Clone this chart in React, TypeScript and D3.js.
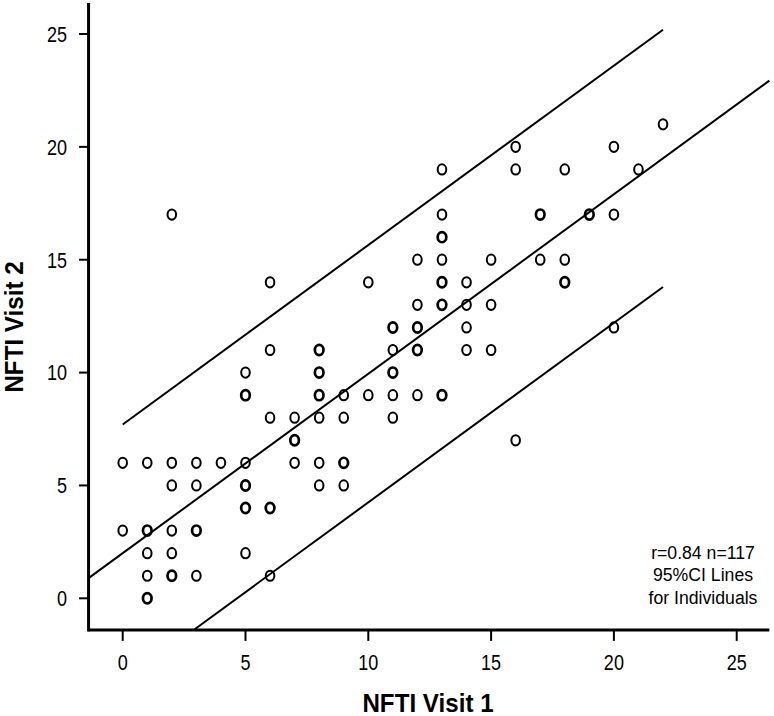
import React from "react";
import * as d3 from "d3";

// Unique (Visit 1, Visit 2) score pairs and how many subjects share each pair
const visit1 = [
  0, 0,
  1, 1, 1, 1, 1,
  2, 2, 2, 2, 2, 2,
  3, 3, 3, 3,
  4,
  5, 5, 5, 5, 5, 5,
  6, 6, 6, 6, 6,
  7, 7, 7,
  8, 8, 8, 8, 8, 8,
  9, 9, 9, 9,
  10, 10,
  11, 11, 11, 11, 11,
  12, 12, 12, 12, 12,
  13, 13, 13, 13, 13, 13, 13,
  14, 14, 14, 14,
  15, 15, 15,
  16, 16, 16,
  17, 17,
  18, 18, 18,
  19,
  20, 20, 20,
  21,
  22,
];
const visit2 = [
  6, 3,
  6, 3, 2, 1, 0,
  17, 6, 5, 3, 2, 1,
  6, 5, 3, 1,
  6,
  10, 9, 6, 5, 4, 2,
  14, 11, 8, 4, 1,
  8, 7, 6,
  11, 10, 9, 8, 6, 5,
  9, 8, 6, 5,
  14, 9,
  12, 11, 10, 9, 8,
  15, 13, 12, 11, 9,
  19, 17, 16, 15, 14, 13, 9,
  14, 13, 12, 11,
  15, 13, 11,
  20, 19, 7,
  17, 15,
  19, 15, 14,
  17,
  20, 17, 12,
  19,
  21,
];
const counts = [
  1, 1,
  1, 3, 1, 1, 2,
  1, 1, 1, 1, 1, 2,
  1, 1, 3, 1,
  1,
  1, 2, 1, 3, 3, 1,
  1, 1, 1, 2, 1,
  1, 2, 1,
  3, 2, 2, 1, 1, 1,
  1, 1, 2, 1,
  1, 1,
  3, 1, 2, 1, 1,
  1, 1, 3, 3, 1,
  1, 1, 2, 1, 3, 3, 2,
  1, 1, 1, 1,
  1, 1, 1,
  1, 1, 1,
  2, 1,
  1, 1, 2,
  2,
  1, 1, 1,
  1,
  1,
];

const xTicks = [0, 5, 10, 15, 20, 25];
const yTicks = [0, 5, 10, 15, 20, 25];
const xDomain = [-1.39, 26.33];
const yDomain = [-1.4, 26.37];

// Regression fit and half-width of the 95% individual prediction band
const intercept = 2.0;
const slope = 0.795;
const ciHalfWidth = 5.7;
const upperRange = [0, 22];
const lowerRange = [2.89, 22];

const annotation = ["r=0.84 n=117", "95%CI Lines", "for Individuals"];
const xTitle = "NFTI Visit 1";
const yTitle = "NFTI Visit 2";

const FONT = "'Liberation Sans', Arial, Helvetica, sans-serif";

export default function App() {
  const x = d3.scaleLinear().domain([0, 25]).range([122.7, 736.7]);
  const y = d3.scaleLinear().domain([0, 25]).range([598.3, 34]);

  const x0 = x(xDomain[0]);
  const x1 = x(xDomain[1]);
  const yb = y(yDomain[0]);
  const yt = y(yDomain[1]);

  const line = d3
    .line<number[]>()
    .x((d) => x(d[0]))
    .y((d) => y(d[1]));

  const fit = (v: number, off: number) => intercept + slope * v + off;
  const regPath = line([
    [xDomain[0], fit(xDomain[0], 0)],
    [xDomain[1], fit(xDomain[1], 0)],
  ]);
  const upPath = line([
    [upperRange[0], fit(upperRange[0], ciHalfWidth)],
    [upperRange[1], fit(upperRange[1], ciHalfWidth)],
  ]);
  const loPath = line([
    [lowerRange[0], fit(lowerRange[0], -ciHalfWidth)],
    [lowerRange[1], fit(lowerRange[1], -ciHalfWidth)],
  ]);

  return (
    <svg
      width={774}
      height={716}
      style={{ position: "absolute", left: 0, top: 0, background: "#fff" }}
    >
      <rect x={0} y={0} width={774} height={716} fill="#fff" />
      {/* fit lines */}
      <g fill="none" stroke="#000" strokeWidth={2}>
        <path d={regPath || ""} />
        <path d={upPath || ""} />
        <path d={loPath || ""} />
      </g>
      {/* points */}
      <g fill="none" stroke="#000">
        {visit1.map((v, i) => (
          <ellipse
            key={i}
            cx={x(v)}
            cy={y(visit2[i])}
            rx={4.3}
            ry={5.1}
            strokeWidth={counts[i] > 1 ? 2.7 : 2.0}
          />
        ))}
      </g>
      {/* axes */}
      <line x1={x0} x2={x1} y1={yb} y2={yb} stroke="#000" strokeWidth={3} />
      <line x1={x0} x2={x0} y1={yt} y2={yb + 1.5} stroke="#000" strokeWidth={3} />
      {xTicks.map((t) => (
        <g key={"x" + t}>
          <line x1={x(t)} x2={x(t)} y1={yb} y2={yb + 11} stroke="#000" strokeWidth={2} />
          <text
            transform={`translate(${x(t)},670) scale(0.82,1)`}
            textAnchor="middle"
            fontFamily={FONT}
            fontSize={22}
          >
            {t}
          </text>
        </g>
      ))}
      {yTicks.map((t) => (
        <g key={"y" + t}>
          <line x1={x0 - 9.5} x2={x0} y1={y(t)} y2={y(t)} stroke="#000" strokeWidth={2} />
          <text
            transform={`translate(67,${y(t) + 7.9}) scale(0.82,1)`}
            textAnchor="end"
            fontFamily={FONT}
            fontSize={22}
          >
            {t}
          </text>
        </g>
      ))}
      {/* titles */}
      <text
        transform={`translate(428,712) scale(0.93,1)`}
        textAnchor="middle"
        fontFamily={FONT}
        fontWeight="bold"
        fontSize={26}
      >
        {xTitle}
      </text>
      <text
        transform={`translate(23,327) rotate(-90) scale(0.93,1)`}
        textAnchor="middle"
        fontFamily={FONT}
        fontWeight="bold"
        fontSize={26}
      >
        {yTitle}
      </text>
      {/* annotation */}
      {annotation.map((s, i) => (
        <text
          key={s}
          transform={`translate(703,${558.5 + i * 22.8}) scale(0.93,1)`}
          textAnchor="middle"
          fontFamily={FONT}
          fontSize={19}
        >
          {s}
        </text>
      ))}
    </svg>
  );
}
